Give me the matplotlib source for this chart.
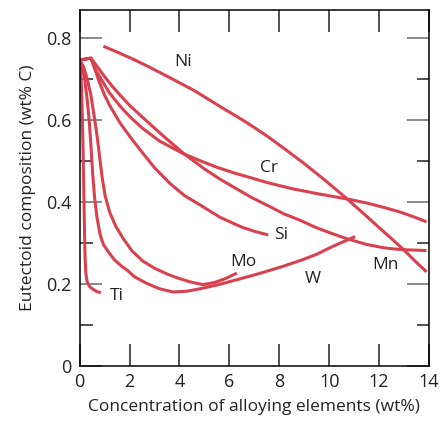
import matplotlib
matplotlib.use('Agg')
import matplotlib.pyplot as plt
from matplotlib.ticker import MultipleLocator

plt.rcParams['font.family'] = ['Open Sans', 'DejaVu Sans']

# Curves (wt% alloying element, wt% C)
ti_x = [0.0, 0.04, 0.08, 0.11, 0.14, 0.16, 0.18, 0.2, 0.22, 0.25, 0.3, 0.4, 0.55, 0.7, 0.85]
ti_y = [0.745, 0.72, 0.67, 0.60, 0.52, 0.45, 0.38, 0.31, 0.26, 0.225, 0.205, 0.193, 0.186, 0.181, 0.178]

w_x = [0, 0.1, 0.2, 0.3, 0.38, 0.45, 0.52, 0.6, 0.7, 0.82, 0.95, 1.15, 1.4, 1.7, 1.89, 2.2,
       2.69, 3.2, 3.75, 4.3, 4.83, 5.5, 6.3, 7.2, 8.17, 8.9, 9.5, 10.1, 10.7, 11.04]
w_y = [0.745, 0.73, 0.70, 0.65, 0.60, 0.54, 0.47, 0.41, 0.36, 0.32, 0.296, 0.278, 0.258, 0.242,
       0.234, 0.217, 0.201, 0.188, 0.180, 0.182, 0.188, 0.197, 0.21, 0.225, 0.243, 0.258, 0.272,
       0.29, 0.306, 0.315]

mo_x = [0, 0.15, 0.3, 0.45, 0.58, 0.7, 0.8, 0.9, 1.02, 1.2, 1.45, 1.75, 2.1, 2.54, 3.0, 3.5,
        3.89, 4.4, 4.95, 5.4, 5.85, 6.3]
mo_y = [0.745, 0.73, 0.70, 0.66, 0.61, 0.56, 0.51, 0.46, 0.415, 0.375, 0.34, 0.31, 0.28, 0.255,
        0.238, 0.224, 0.215, 0.205, 0.198, 0.203, 0.213, 0.226]

si_x = [0, 0.25, 0.45, 0.6, 0.8, 1.0, 1.2, 1.62, 2.0, 2.42, 3.0, 3.63, 4.2, 4.83, 5.63, 6.5, 7.0, 7.56]
si_y = [0.745, 0.748, 0.75, 0.725, 0.69, 0.66, 0.635, 0.592, 0.56, 0.527, 0.483, 0.444, 0.415,
        0.392, 0.362, 0.338, 0.328, 0.319]

cr_x = [0, 0.25, 0.45, 0.65, 0.9, 1.2, 1.62, 2.0, 2.5, 3.2, 4.16, 4.83, 5.5, 6.2, 7.0, 7.5, 8.5,
        9.5, 10.7, 11.5, 12.2, 12.84, 13.4, 13.9]
cr_y = [0.745, 0.748, 0.75, 0.72, 0.695, 0.665, 0.633, 0.608, 0.58, 0.548, 0.517, 0.5, 0.484,
        0.47, 0.456, 0.447, 0.432, 0.42, 0.407, 0.397, 0.386, 0.375, 0.363, 0.351]

mn_x = [0, 0.25, 0.45, 0.7, 1.0, 1.3, 1.62, 2.0, 2.5, 3.3, 4.16, 5.0, 5.6, 6.16, 6.9, 7.63, 8.2,
        8.83, 9.4, 10.0, 10.7, 11.5, 12.17, 12.6, 13.0, 13.5, 13.9]
mn_y = [0.745, 0.748, 0.75, 0.73, 0.705, 0.682, 0.66, 0.635, 0.607, 0.563, 0.518, 0.48, 0.456,
        0.436, 0.41, 0.388, 0.37, 0.355, 0.339, 0.325, 0.31, 0.296, 0.288, 0.285, 0.283, 0.282, 0.281]

ni_x = [0.95, 1.5, 2.16, 2.8, 3.5, 4.0, 4.56, 5.1, 5.63, 6.1, 6.56, 7.1, 7.63, 8.3, 9.0, 9.8,
        10.7, 11.4, 12.0, 12.5, 12.97, 13.4, 13.9]
ni_y = [0.779, 0.765, 0.747, 0.728, 0.706, 0.69, 0.672, 0.652, 0.632, 0.615, 0.598, 0.577, 0.555,
        0.525, 0.493, 0.454, 0.408, 0.37, 0.337, 0.31, 0.284, 0.258, 0.229]

curves = [(ti_x, ti_y), (w_x, w_y), (mo_x, mo_y), (si_x, si_y),
          (cr_x, cr_y), (mn_x, mn_y), (ni_x, ni_y)]

# element labels
lab_text = ['Ni', 'Cr', 'Si', 'Mo', 'W', 'Mn', 'Ti']
lab_x = [4.14, 7.6, 8.07, 6.55, 9.36, 12.24, 1.5]
lab_y = [0.74, 0.482, 0.319, 0.253, 0.212, 0.246, 0.17]

red = '#d9414f'

fig = plt.figure(figsize=(4.4, 4.22), dpi=100)
ax = fig.add_axes([0.181, 0.133, 0.794, 0.843])

for cx, cy in curves:
    ax.plot(cx, cy, color=red, lw=2.2, solid_capstyle='butt', solid_joinstyle='round')

for t, lx, ly in zip(lab_text, lab_x, lab_y):
    ax.text(lx, ly, t, ha='center', va='center', fontsize=12.5, color='#222222')

ax.set_xlim(0, 14)
ax.set_ylim(0, 0.867)
ax.set_xticks(range(0, 15, 2))
ax.set_yticks([0, 0.2, 0.4, 0.6, 0.8])
ax.set_yticklabels(['0', '0.2', '0.4', '0.6', '0.8'])
ax.yaxis.set_minor_locator(MultipleLocator(0.1))

ax.tick_params(axis='x', direction='in', length=16, width=1.1, color='#222222',
               top=True, labelsize=13, pad=5, labelcolor='#222222')
ax.tick_params(axis='y', which='major', direction='in', length=16, width=1.3,
               color='#808080', right=True, labelsize=13, pad=6, labelcolor='#222222')
ax.tick_params(axis='y', which='minor', direction='in', length=9, width=1.1,
               color='#222222', right=True)

for s in ax.spines.values():
    s.set_linewidth(1.1)

ax.set_xlabel('Concentration of alloying elements (wt%)', fontsize=12.5, color='#222222', labelpad=6)
ax.set_ylabel('Eutectoid composition (wt% C)', fontsize=12.5, color='#222222', labelpad=7)

fig.savefig('out.png', dpi=100)
